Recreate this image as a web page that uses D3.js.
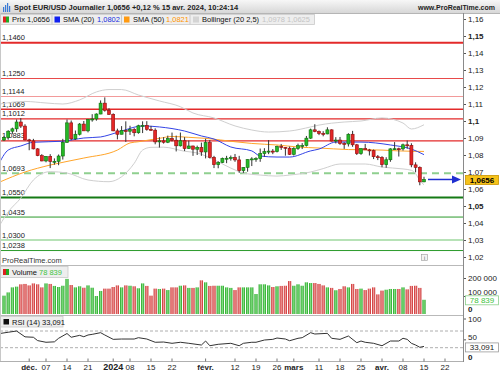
<!DOCTYPE html>
<html>
<head>
<meta charset="utf-8">
<script src="https://cdn.jsdelivr.net/npm/d3@7"></script>
<style>
body { margin: 0; background: #fff; }
text { font-family: "Liberation Sans", Arial, sans-serif; }
</style>
</head>
<body>
<div id="chart"></div>
<script>
// daily candles, index 0 = 23 nov. 2023 ... index 100 = 15 avr. 2024 (trading days only)
var opens = [1.0888,1.0902,1.0940,1.0954,1.0994,1.0970,1.0889,1.0883,1.0836,1.0796,
  1.0765,1.0792,1.0762,1.0763,1.0794,1.0874,1.0989,1.0895,1.0922,1.0982,
  1.0942,1.1010,1.1012,1.1041,1.1105,1.1063,1.1039,1.0942,1.0922,1.0944,
  1.0940,1.0950,1.0931,1.0972,1.0974,1.0951,1.0946,1.0877,1.0883,1.0875,
  1.0897,1.0887,1.0854,1.0884,1.0838,1.0853,1.0834,1.0845,1.0818,1.0873,
  1.0786,1.0743,1.0756,1.0780,1.0781,1.0785,1.0771,1.0708,1.0727,1.0773,
  1.0777,1.0779,1.0808,1.0820,1.0823,1.0820,1.0850,1.0845,1.0840,1.0804,
  1.0838,1.0855,1.0856,1.0899,1.0948,1.0938,1.0927,1.0924,1.0948,1.0882,
  1.0888,1.0868,1.0865,1.0922,1.0860,1.0808,1.0838,1.0830,1.0826,1.0790,
  1.0786,1.0743,1.0772,1.0836,1.0837,1.0836,1.0860,1.0857,1.0742,1.0727,
  1.0642];
var highs = [1.0913,1.0946,1.0961,1.1009,1.1017,1.0981,1.0895,1.0895,1.0840,1.0805,
  1.0794,1.0805,1.0780,1.0803,1.0895,1.1009,1.1003,1.0944,1.0988,1.1000,
  1.1012,1.1040,1.1045,1.1121,1.1139,1.1075,1.1045,1.0955,1.0970,1.0998,
  1.0972,1.0958,1.0978,1.0998,1.0999,1.0971,1.0957,1.0905,1.0905,1.0914,
  1.0932,1.0914,1.0932,1.0905,1.0885,1.0855,1.0855,1.0873,1.0896,1.0888,
  1.0795,1.0763,1.0785,1.0795,1.0797,1.0806,1.0795,1.0728,1.0775,1.0787,
  1.0787,1.0838,1.0840,1.0888,1.0835,1.0855,1.0865,1.0847,1.0850,1.0846,
  1.0867,1.0870,1.0912,1.0955,1.0981,1.0944,1.0940,1.0963,1.0951,1.0905,
  1.0906,1.0875,1.0928,1.0942,1.0865,1.0840,1.0865,1.0836,1.0832,1.0800,
  1.0793,1.0787,1.0840,1.0876,1.0843,1.0867,1.0885,1.0869,1.0757,1.0733,
  1.0672];
var lows = [1.0882,1.0890,1.0924,1.0936,1.0959,1.0886,1.0828,1.0833,1.0793,1.0763,
  1.0757,1.0723,1.0743,1.0740,1.0773,1.0873,1.0887,1.0889,1.0915,1.0942,
  1.0933,1.0996,1.1002,1.1040,1.1055,1.1036,1.0940,1.0892,1.0922,1.0877,
  1.0918,1.0910,1.0925,1.0929,1.0943,1.0942,1.0863,1.0844,1.0867,1.0870,
  1.0880,1.0821,1.0850,1.0823,1.0836,1.0795,1.0800,1.0795,1.0780,1.0780,
  1.0723,1.0722,1.0752,1.0752,1.0767,1.0760,1.0695,1.0695,1.0702,1.0735,
  1.0760,1.0760,1.0790,1.0805,1.0805,1.0815,1.0830,1.0796,1.0800,1.0797,
  1.0830,1.0835,1.0850,1.0895,1.0934,1.0917,1.0910,1.0922,1.0880,1.0868,
  1.0860,1.0836,1.0850,1.0848,1.0800,1.0801,1.0830,1.0797,1.0776,1.0770,
  1.0728,1.0725,1.0760,1.0830,1.0791,1.0826,1.0837,1.0728,1.0698,1.0622,
  1.0640];
var closes = [1.0902,1.0940,1.0954,1.0994,1.0970,1.0889,1.0883,1.0836,1.0796,1.0765,
  1.0792,1.0762,1.0763,1.0794,1.0874,1.0989,1.0895,1.0922,1.0982,1.0942,
  1.1010,1.1012,1.1041,1.1105,1.1063,1.1039,1.0942,1.0922,1.0944,1.0940,
  1.0950,1.0931,1.0972,1.0974,1.0951,1.0946,1.0877,1.0883,1.0875,1.0897,
  1.0887,1.0854,1.0884,1.0838,1.0853,1.0834,1.0845,1.0818,1.0873,1.0786,
  1.0743,1.0756,1.0780,1.0781,1.0785,1.0771,1.0708,1.0727,1.0773,1.0777,
  1.0779,1.0808,1.0820,1.0823,1.0820,1.0850,1.0845,1.0840,1.0804,1.0838,
  1.0855,1.0856,1.0899,1.0948,1.0938,1.0927,1.0924,1.0948,1.0882,1.0888,
  1.0868,1.0865,1.0922,1.0860,1.0808,1.0838,1.0830,1.0826,1.0790,1.0786,
  1.0743,1.0772,1.0836,1.0837,1.0836,1.0860,1.0857,1.0742,1.0727,1.0642,
  1.0656];
// volume in thousands
var volumes = [102,120,148,152,165,167,159,170,165,148,
  170,167,156,150,157,195,161,148,154,146,
  159,146,100,128,141,141,150,159,148,159,
  157,154,143,170,156,102,141,139,141,133,
  148,148,157,159,145,145,148,187,176,156,
  157,157,157,148,145,133,148,148,148,148,
  111,165,165,159,150,154,156,157,183,157,
  165,157,176,172,172,167,159,148,145,132,
  139,154,148,167,139,141,133,141,148,109,
  130,135,139,139,139,148,137,156,157,145,
  79];

// indicator lines, read at sample days
var sma20Day = [-1,1,4,7,14,19,23,25,28,33,37,43,47,50,54,59,61,65,68,73,75,79,85,92,97,100];
var sma20Val = [1.0759,1.0829,1.0853,1.0875,1.0881,1.0900,1.0906,1.0918,1.0941,1.0971,1.0965,1.0941,1.0912,1.0894,1.0847,1.0824,1.0794,1.0788,1.0788,1.0824,1.0835,1.0876,1.0876,1.0859,1.0835,1.0802];
var sma50Day = [-1,5,11,19,27,30,32,37,40,44,48,55,59,65,70,75,82,90,94,100];
var sma50Val = [1.0641,1.0700,1.0741,1.0782,1.0829,1.0871,1.0878,1.0898,1.0909,1.0904,1.0898,1.0878,1.0868,1.0859,1.0847,1.0841,1.0832,1.0829,1.0824,1.0821];
var bollUpDay = [-1,5,10,14,18,22,25,28,32,37,42,45,50,55,59,63,68,73,75,81,85,90,95,97,100];
var bollUpVal = [1.1100,1.1115,1.1106,1.1100,1.1124,1.1171,1.1185,1.1185,1.1153,1.1118,1.1084,1.1047,1.1018,1.0971,1.0947,1.0935,1.0941,1.0965,1.0976,1.0994,1.1000,1.1018,1.0988,1.0953,1.0978];
var bollLoDay = [-1,1,4,7,11,15,20,25,28,31,33,35,38,43,46,50,54,57,61,65,68,73,76,80,86,90,95,97,98,99,100];
var bollLoVal = [1.0388,1.0465,1.0547,1.0653,1.0702,1.0694,1.0653,1.0643,1.0672,1.0751,1.0829,1.0845,1.0846,1.0822,1.0812,1.0772,1.0723,1.0694,1.0682,1.0676,1.0682,1.0700,1.0720,1.0747,1.0747,1.0729,1.0718,1.0710,1.0690,1.0650,1.0625];

var rsiDay = [-1,1,3,5,7,8,10,12,13,15,16,18,19,20,21,23,24,26,28,31,32,34,36,38,40,42,44,47,48,49,51,54,56,57,59,60,62,64,65,67,68,70,71,73,74,77,78,80,82,84,85,86,88,90,92,94,95,96,97,98,99,100];
var rsiVal = [64,67,70,56,55,47,43,44,52.5,64,55,59.6,56.3,60.4,62,66,60.4,50,50.8,50.8,54,50.8,43,43.6,40.5,43,40.5,36.4,46,34.7,38.1,40.5,34.7,40.5,43,43,48.4,50,53.2,50.8,46.7,52.5,54,66,62.8,64.4,52.5,50,58,42,46,43,40.5,34.7,46,46,52.5,50,40.5,36.4,31,33.1];

// horizontal levels drawn by the user
var resistances = [1.1460, 1.1250, 1.1144, 1.1069, 1.1012, 1.0883];
var supports = [1.0693, 1.0550, 1.0435, 1.0300, 1.0238];

var priceTicks = [1.02,1.03,1.04,1.05,1.06,1.07,1.08,1.09,1.10,1.11,1.12,1.13,1.14,1.15,1.16];
var volumeTicks = [100000, 200000];
var rsiTicks = [50, 100];
var dateTickDay = [6,10,15,20,26,30,35,40,48,55,60,65,69,75,80,85,90,95,100,105];
var dateTickText = ["déc.","07","14","21","2024","08","15","22","févr.","12","19","26","mars","11","18","25","avr.","08","15","22"];

var lastPrice = 1.0656, lastVolume = 78839, lastRsi = 33.091;

// ---------- setup
var W = 500, H = 375;
var axisX = 463;
var bottomY = 361.5;
var svg = d3.select("#chart").append("svg").attr("width", W).attr("height", H);
var defs = svg.append("defs");

var x = d3.scaleLinear().domain([0, 100]).range([4, 424]);
var y = d3.scaleLinear().domain([1.02, 1.16]).range([257, 19]);
var yVol = d3.scaleLinear().domain([0, 200000]).range([314, 278]);
var yRsi = d3.scaleLinear().domain([0, 100]).range([360.2, 318.5]);

var comma = function(v, f) { return d3.format(f)(v).replace(".", ","); };

var tg = defs.append("linearGradient").attr("id", "titleGrad").attr("x1", 0).attr("x2", 0).attr("y1", 0).attr("y2", 1);
tg.append("stop").attr("offset", 0).attr("stop-color", "#f7f7f7");
tg.append("stop").attr("offset", 1).attr("stop-color", "#d7d7d7");

function barGrad(id, dark, light) {
    var g = defs.append("linearGradient").attr("id", id);
    g.append("stop").attr("offset", 0).attr("stop-color", dark);
    g.append("stop").attr("offset", 0.5).attr("stop-color", light);
    g.append("stop").attr("offset", 1).attr("stop-color", dark);
}
barGrad("volUp", "#1f9f1f", "#86e286");
barGrad("volDown", "#c62020", "#f1a0a0");

defs.append("clipPath").attr("id", "priceClip").append("rect")
    .attr("x", 0).attr("y", 13).attr("width", axisX).attr("height", 252);
defs.append("clipPath").attr("id", "rsiClip").append("rect")
    .attr("x", 0).attr("y", 316).attr("width", axisX).attr("height", 45);

// ---------- title bar
svg.append("rect").attr("x", 0).attr("y", 0).attr("width", W).attr("height", 13).attr("fill", "url(#titleGrad)");
svg.append("line").attr("x1", 0).attr("x2", W).attr("y1", 13.5).attr("y2", 13.5).attr("stroke", "#b5b5b5");
[[3, 6, 5], [5, 4, 7], [7, 2, 9], [9, 5, 6]].forEach(function(b) {
    svg.append("rect").attr("x", b[0]).attr("y", b[1] + 1).attr("width", 1.2).attr("height", b[2]).attr("fill", "#3b7bd6");
});
svg.append("text").attr("x", 14).attr("y", 9.5).attr("font-size", 7.5).attr("font-weight", "bold").attr("fill", "#222")
    .text("Spot EUR/USD Journalier 1,0656 +0,12 % 15 avr. 2024, 10:24:14");
svg.append("text").attr("x", 495).attr("y", 9.5).attr("text-anchor", "end").attr("font-size", 7).attr("font-weight", "bold").attr("fill", "#222")
    .text("www.ProRealTime.com");

// ---------- price panel
var price = svg.append("g").attr("clip-path", "url(#priceClip)");

var resStyle = [["#e32a2a", 2], ["#e84a4a", 1], ["#f29a9a", 1.2], ["#e32a2a", 1.3], ["#e32a2a", 1.3], ["#e32a2a", 1.3]];
resistances.forEach(function(v, i) {
    price.append("line").attr("x1", 0).attr("x2", axisX).attr("y1", y(v)).attr("y2", y(v))
        .attr("stroke", resStyle[i][0]).attr("stroke-width", resStyle[i][1]);
});
var supStyle = [["#8fcf8f", 2, "7,5"], ["#157a15", 2, null], ["#2b9a2b", 1, null], ["#9fd89f", 1.6, null], ["#2b9a2b", 1, null]];
supports.forEach(function(v, i) {
    var l = price.append("line").attr("x1", 0).attr("x2", axisX).attr("y1", y(v)).attr("y2", y(v))
        .attr("stroke", supStyle[i][0]).attr("stroke-width", supStyle[i][1]);
    if (supStyle[i][2]) l.attr("stroke-dasharray", supStyle[i][2]);
});
resistances.concat(supports).forEach(function(v) {
    price.append("text").attr("x", 2).attr("y", y(v) - 2.5).attr("font-size", 7.5).attr("fill", "#222")
        .text(comma(v, ".4f"));
});

function zip(days, vals) { return days.map(function(d, i) { return [d, vals[i]]; }); }
var priceLine = d3.line().x(function(d) { return x(d[0]); }).y(function(d) { return y(d[1]); }).curve(d3.curveMonotoneX);

price.append("path").attr("d", priceLine(zip(bollUpDay, bollUpVal))).attr("fill", "none").attr("stroke", "#cfcfcf").attr("stroke-width", 1);
price.append("path").attr("d", priceLine(zip(bollLoDay, bollLoVal))).attr("fill", "none").attr("stroke", "#cfcfcf").attr("stroke-width", 1);
price.append("path").attr("d", priceLine(zip(sma50Day, sma50Val))).attr("fill", "none").attr("stroke", "#ffa52a").attr("stroke-width", 1);
price.append("path").attr("d", priceLine(zip(sma20Day, sma20Val))).attr("fill", "none").attr("stroke", "#3444e6").attr("stroke-width", 1);

var candles = opens.map(function(o, i) { return { i: i, o: o, h: highs[i], l: lows[i], c: closes[i] }; });
var cg = price.append("g");
cg.selectAll("line").data(candles).enter().append("line")
    .attr("x1", function(d) { return x(d.i); }).attr("x2", function(d) { return x(d.i); })
    .attr("y1", function(d) { return y(d.h); }).attr("y2", function(d) { return y(d.l); })
    .attr("stroke", "#333").attr("stroke-width", 1);
cg.selectAll("rect").data(candles).enter().append("rect")
    .attr("x", function(d) { return x(d.i) - 1.5; })
    .attr("y", function(d) { return y(Math.max(d.o, d.c)); })
    .attr("width", 3)
    .attr("height", function(d) { return Math.max(1, Math.abs(y(d.o) - y(d.c))); })
    .attr("fill", function(d) { return d.c >= d.o ? "#25b825" : "#e42626"; })
    .attr("stroke", function(d) { return d.c >= d.o ? "#0d6e0d" : "#8e0c0c"; })
    .attr("stroke-width", 0.6);

svg.append("text").attr("x", 2).attr("y", 263).attr("font-size", 7.5).attr("fill", "#333").text("ProRealTime.com");
svg.append("rect").attr("x", 421.5).attr("y", 254.5).attr("width", 6).attr("height", 6).attr("fill", "#f4f4f4").attr("stroke", "#999").attr("stroke-width", 0.6);
svg.append("text").attr("x", 424.5).attr("y", 259.5).attr("text-anchor", "middle").attr("font-size", 5).attr("fill", "#555").text("i");

// legend
var lg = svg.append("g");
lg.append("rect").attr("x", 0.5).attr("y", 14.5).attr("width", 314).attr("height", 10).attr("fill", "#eeeeee").attr("stroke", "#c9c9c9").attr("stroke-width", 0.8);
[52, 121.5, 190].forEach(function(sx) {
    lg.append("line").attr("x1", sx).attr("x2", sx).attr("y1", 14.5).attr("y2", 24.5).attr("stroke", "#c9c9c9");
});
lg.append("rect").attr("x", 3).attr("y", 16.5).attr("width", 3).attr("height", 6).attr("fill", "#d22");
lg.append("rect").attr("x", 6).attr("y", 16.5).attr("width", 3).attr("height", 6).attr("fill", "#2a2");
lg.append("rect").attr("x", 54.5).attr("y", 16.5).attr("width", 5.5).attr("height", 6).attr("fill", "#1020f0");
lg.append("rect").attr("x", 124).attr("y", 16.5).attr("width", 5.5).attr("height", 6).attr("fill", "#ff9a10");
lg.append("rect").attr("x", 193).attr("y", 16.5).attr("width", 6).attr("height", 6).attr("fill", "#d4d4d4");
function legendText(tx, str, col) {
    lg.append("text").attr("x", tx).attr("y", 22.3).attr("font-size", 7.5).attr("fill", col).text(str);
}
legendText(12, "Prix 1,0656", "#111");
legendText(63, "SMA (20)", "#111");
legendText(97, comma(sma20Val[sma20Val.length - 1], ".4f"), "#1a2ee0");
legendText(133, "SMA (50)", "#111");
legendText(166, comma(sma50Val[sma50Val.length - 1], ".4f"), "#ff9400");
legendText(202, "Bollinger (20 2,5)", "#111");
legendText(262, comma(bollUpVal[bollUpVal.length - 1], ".4f") + " " + comma(bollLoVal[bollLoVal.length - 1], ".4f"), "#c4c4c4");

// right price axis
var pAxis = svg.append("g").attr("transform", "translate(" + axisX + ",0)")
    .call(d3.axisRight(y).tickValues(priceTicks).tickSize(3).tickPadding(2)
        .tickFormat(function(v) { return comma(v, ".2~f"); }));
pAxis.select(".domain").remove();
pAxis.selectAll("line").attr("stroke", "#555");
pAxis.selectAll("text").attr("font-size", 8).attr("fill", "#222")
    .attr("font-family", "'Liberation Sans', Arial, sans-serif")
    .attr("font-weight", function(v) { return [1.05, 1.1, 1.15].some(function(b) { return Math.abs(b - v) < 1e-9; }) ? "bold" : "normal"; });

// last price arrow and tag
var yLast = y(lastPrice);
svg.append("line").attr("x1", 428).attr("x2", 453).attr("y1", yLast).attr("y2", yLast).attr("stroke", "#1f2fd0").attr("stroke-width", 1.5);
svg.append("path").attr("d", "M452," + (yLast - 4) + "L461," + yLast + "L452," + (yLast + 4) + "Z").attr("fill", "#1f2fd0");
svg.append("rect").attr("x", 465.5).attr("y", yLast - 4).attr("width", 33).attr("height", 9).attr("fill", "#f6c21a").attr("stroke", "#c99400").attr("stroke-width", 0.8);
svg.append("text").attr("x", 482).attr("y", yLast + 3.5).attr("text-anchor", "middle").attr("font-size", 8).attr("font-weight", "bold").attr("fill", "#000").text(comma(lastPrice, ".4f"));

// ---------- volume panel
svg.append("line").attr("x1", 0).attr("x2", axisX).attr("y1", 265.5).attr("y2", 265.5).attr("stroke", "#b9b9b9");
svg.append("g").selectAll("rect").data(candles).enter().append("rect")
    .attr("x", function(d) { return x(d.i) - 1.6; })
    .attr("y", function(d) { return yVol(volumes[d.i] * 1000); })
    .attr("width", 3.2)
    .attr("height", function(d) { return yVol(0) - yVol(volumes[d.i] * 1000); })
    .attr("fill", function(d) { return d.c >= d.o ? "url(#volUp)" : "url(#volDown)"; });

svg.append("rect").attr("x", 0.5).attr("y", 266.5).attr("width", 67.5).attr("height", 11).attr("fill", "#eeeeee").attr("stroke", "#c9c9c9").attr("stroke-width", 0.8);
svg.append("rect").attr("x", 3).attr("y", 269).attr("width", 3).attr("height", 6).attr("fill", "#d22");
svg.append("rect").attr("x", 6).attr("y", 269).attr("width", 3).attr("height", 6).attr("fill", "#2a2");
svg.append("text").attr("x", 12).attr("y", 275).attr("font-size", 7.5).attr("fill", "#111").text("Volume");
svg.append("text").attr("x", 39).attr("y", 275).attr("font-size", 7.5).attr("fill", "#3ec43e").text("78 839");

var vAxis = svg.append("g").attr("transform", "translate(" + axisX + ",0)")
    .call(d3.axisRight(yVol).tickValues(volumeTicks).tickSize(3).tickPadding(2)
        .tickFormat(function(v) { return d3.format(",")(v).replace(",", " "); }));
vAxis.select(".domain").remove();
vAxis.selectAll("line").attr("stroke", "#555");
vAxis.selectAll("text").attr("font-size", 8).attr("fill", "#222").attr("font-family", "'Liberation Sans', Arial, sans-serif")
    .attr("dy", function(v) { return v === 100000 ? "-0.2em" : "0.32em"; });
svg.append("text").attr("x", 468).attr("y", 312).attr("font-size", 8).attr("font-weight", "bold").attr("fill", "#222").text("0");
svg.append("rect").attr("x", 465.5).attr("y", yVol(lastVolume) - 4).attr("width", 33).attr("height", 9).attr("fill", "#fff").attr("stroke", "#8ad08a").attr("stroke-width", 0.8);
svg.append("text").attr("x", 482).attr("y", yVol(lastVolume) + 3.5).attr("text-anchor", "middle").attr("font-size", 8).attr("fill", "#3ec43e").text("78 839");

// ---------- RSI panel
svg.append("line").attr("x1", 0).attr("x2", axisX).attr("y1", 315.5).attr("y2", 315.5).attr("stroke", "#b9b9b9");
[70, 30].forEach(function(v) {
    svg.append("line").attr("x1", 0).attr("x2", axisX).attr("y1", yRsi(v)).attr("y2", yRsi(v))
        .attr("stroke", "#9a9a9a").attr("stroke-width", 0.8).attr("stroke-dasharray", "3,2");
});
var rsiLine = d3.line().x(function(d) { return x(d[0]); }).y(function(d) { return yRsi(d[1]); });
svg.append("g").attr("clip-path", "url(#rsiClip)").append("path").attr("d", rsiLine(zip(rsiDay, rsiVal)))
    .attr("fill", "none").attr("stroke", "#333").attr("stroke-width", 1);

svg.append("rect").attr("x", 0.5).attr("y", 316.5).attr("width", 62.5).attr("height", 10.5).attr("fill", "#eeeeee").attr("stroke", "#c9c9c9").attr("stroke-width", 0.8);
svg.append("rect").attr("x", 3.5).attr("y", 319).attr("width", 5.5).attr("height", 5.5).attr("fill", "#111");
svg.append("text").attr("x", 12).attr("y", 324.5).attr("font-size", 7.5).attr("fill", "#111").text("RSI (14) 33,091");

var rAxis = svg.append("g").attr("transform", "translate(" + axisX + ",0)")
    .call(d3.axisRight(yRsi).tickValues(rsiTicks).tickSize(3).tickPadding(2));
rAxis.select(".domain").remove();
rAxis.selectAll("line").attr("stroke", "#555");
rAxis.selectAll("text").attr("font-size", 8).attr("fill", "#222").attr("font-family", "'Liberation Sans', Arial, sans-serif")
    .attr("dy", function(v) { return v === 50 ? "0.05em" : "0.4em"; });
svg.append("text").attr("x", 468).attr("y", 359.5).attr("font-size", 8).attr("font-weight", "bold").attr("fill", "#222").text("0");
svg.append("rect").attr("x", 465.5).attr("y", yRsi(lastRsi) - 3.5).attr("width", 33).attr("height", 9).attr("fill", "#fff").attr("stroke", "#9a9a9a").attr("stroke-width", 0.8);
svg.append("text").attr("x", 482).attr("y", yRsi(lastRsi) + 4).attr("text-anchor", "middle").attr("font-size", 8).attr("fill", "#222").text(comma(lastRsi, ".3f"));

// ---------- frame and date axis
svg.append("line").attr("x1", axisX + 0.5).attr("x2", axisX + 0.5).attr("y1", 13).attr("y2", bottomY + 0.5).attr("stroke", "#8a8a8a");
svg.append("line").attr("x1", 0.5).attr("x2", 0.5).attr("y1", 13).attr("y2", bottomY).attr("stroke", "#c8c8c8");
svg.append("line").attr("x1", 0).attr("x2", axisX).attr("y1", bottomY).attr("y2", bottomY).attr("stroke", "#b0b0b0");

var xg = svg.append("g");
dateTickDay.forEach(function(d, i) {
    var t = dateTickText[i];
    var strong = isNaN(+t) || t === "2024";
    xg.append("line").attr("x1", x(d)).attr("x2", x(d)).attr("y1", bottomY - 3).attr("y2", bottomY).attr("stroke", "#777");
    xg.append("text").attr("x", x(d)).attr("y", 370).attr("text-anchor", "middle")
        .attr("font-size", t === "2024" ? 9 : 8)
        .attr("font-weight", strong ? "bold" : "normal")
        .attr("fill", "#222").text(t);
});
</script>
</body>
</html>
